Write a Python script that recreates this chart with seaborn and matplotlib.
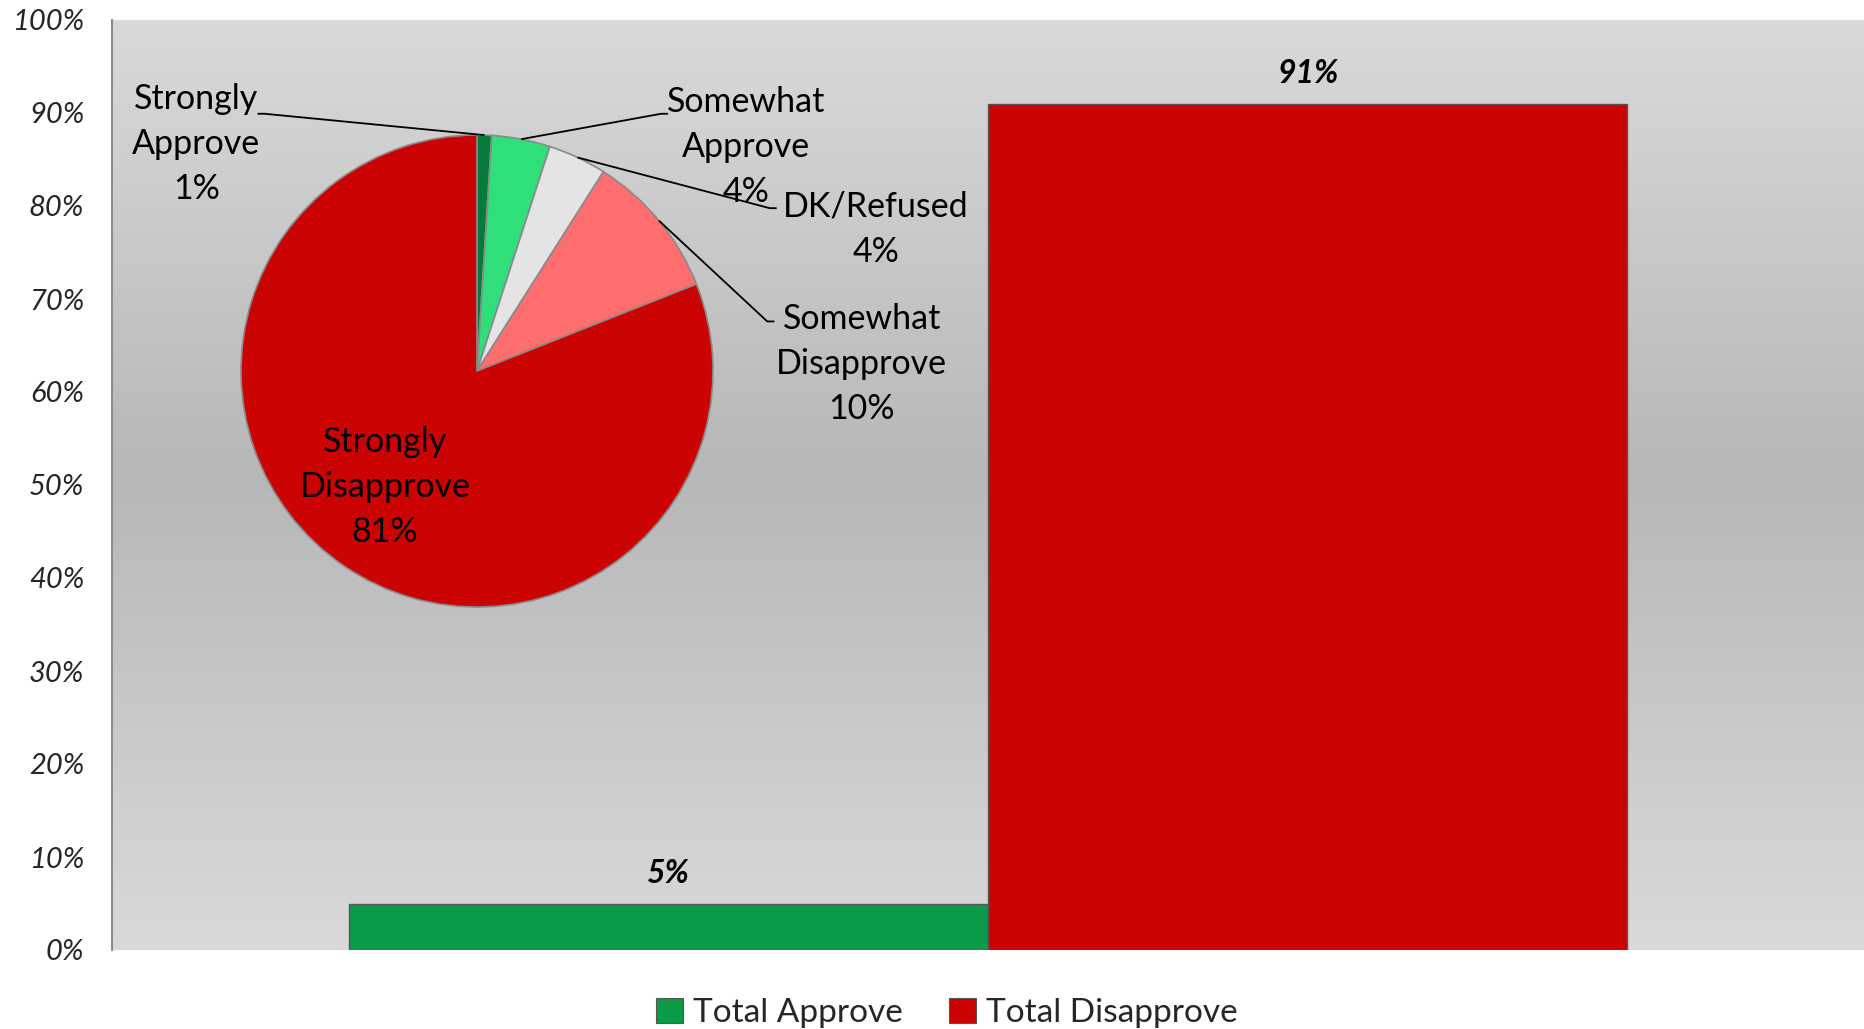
import numpy as np
import pandas as pd
import matplotlib
matplotlib.use("Agg")
import matplotlib.pyplot as plt
import seaborn as sns
from matplotlib.colors import LinearSegmentedColormap
from matplotlib.patches import Patch

# ---------------- data ----------------
bar_series = ["Total Approve", "Total Disapprove"]
bar_values = [5, 91]
bar_colors = ["#0a9a48", "#cc0303"]

pie_labels = ["Strongly\nApprove", "Somewhat\nApprove", "DK/Refused",
              "Somewhat\nDisapprove", "Strongly\nDisapprove"]
pie_values = [1, 4, 4, 10, 81]
pie_colors = ["#067a3a", "#2fe07a", "#e4e4e4", "#ff6e6e", "#cc0303"]

y_ticks = [0, 10, 20, 30, 40, 50, 60, 70, 80, 90, 100]

# ---------------- style ----------------
sns.set_theme(style="white")
plt.rcParams["font.family"] = ["Lato", "DejaVu Sans"]

fig = plt.figure(figsize=(18.64, 10.29), dpi=100)
ax = fig.add_axes([112 / 1864, 1 - 950 / 1029, 1 - 112 / 1864, 930 / 1029])

# background gradient
cmap = LinearSegmentedColormap.from_list(
    "bg", [(0.0, "#d9d9d9"), (0.49, "#b7b7b7"), (1.0, "#d9d9d9")])
grad = np.linspace(0, 1, 256).reshape(-1, 1)
ax.imshow(grad, cmap=cmap, aspect="auto", extent=[0, 1, 0, 1],
          transform=ax.transAxes, zorder=0, interpolation="bicubic")

df = pd.DataFrame({"cat": [""] * len(bar_series),
                   "series": bar_series, "value": bar_values})
sns.barplot(data=df, x="cat", y="value", hue="series", hue_order=bar_series,
            palette=bar_colors, width=0.73, gap=0, dodge=True, ax=ax,
            edgecolor="#555555", linewidth=1.0, saturation=1, zorder=2)
if ax.get_legend() is not None:
    ax.get_legend().remove()

for cont in ax.containers:
    ax.bar_label(cont, labels=[f"{v:.0f}%" for v in cont.datavalues],
                 padding=11, fontsize=23, fontstyle="italic",
                 fontweight="bold", color="black")

ax.set_xlim(-0.5, 0.5)
ax.set_ylim(0, 100)
ax.set_yticks(y_ticks)
ax.set_yticklabels([f"{t}%" for t in y_ticks], fontsize=21, fontstyle="italic")
ax.tick_params(axis="y", length=0, pad=20)
ax.set_xticks([])
ax.set_xlabel("")
ax.set_ylabel("")
for s in ["top", "right", "bottom"]:
    ax.spines[s].set_visible(False)
ax.spines["left"].set_color("#8c8c8c")
ax.spines["left"].set_linewidth(1.5)

# ---------------- pie inset ----------------
R = 236.0
cx, cy = 477.0, 371.0
x0, x1, y0, y1 = -1.6, 2.3, -1.1, 1.3
pax = fig.add_axes([(cx + x0 * R) / 1864, 1 - (cy + (-y0) * R) / 1029,
                    (x1 - x0) * R / 1864, (y1 - y0) * R / 1029])
wedges, _ = pax.pie(pie_values, colors=pie_colors, startangle=90,
                    counterclock=False,
                    wedgeprops=dict(edgecolor="#8a8a8a", linewidth=1.2))
pax.set_xlim(x0, x1)
pax.set_ylim(y0, y1)
pax.set_aspect("auto")
pax.axis("off")

# label positions (text centers), knee of leader line, and end of short tail
label_pos = [(-1.19, 0.96), (1.14, 0.95), (1.69, 0.60), (1.63, 0.03), (-0.39, -0.49)]
knee_pos = [(-0.90, 1.09), (0.78, 1.09), (1.24, 0.69), (1.23, 0.21), None]
knee_end = [(-0.93, 1.09), (0.81, 1.09), (1.27, 0.69), (1.26, 0.21), None]

total = float(sum(pie_values))
cum = 0.0
for i, (lab, val) in enumerate(zip(pie_labels, pie_values)):
    mid = cum + val / 2.0
    cum += val
    ang = np.deg2rad(90 - 360 * mid / total)
    px, py = np.cos(ang), np.sin(ang)
    tx, ty = label_pos[i]
    pax.text(tx, ty, f"{lab}\n{val}%", ha="center", va="center",
             fontsize=24.5, linespacing=1.5, color="black")
    if knee_pos[i] is not None:
        kx, ky = knee_pos[i]
        ex, ey = knee_end[i]
        pax.plot([px, kx, ex], [py, ky, ey], color="black", lw=1.3,
                 solid_capstyle="butt")

# ---------------- legend ----------------
handles = [Patch(facecolor=c, edgecolor="#555555", linewidth=0.8) for c in bar_colors]
fig.legend(handles, bar_series, loc="center", bbox_to_anchor=(0.508, 0.0155),
           ncol=2, frameon=False, fontsize=24, handlelength=0.8,
           handleheight=0.8, handletextpad=0.3, columnspacing=1.4)

fig.savefig("out.png", dpi=100)
